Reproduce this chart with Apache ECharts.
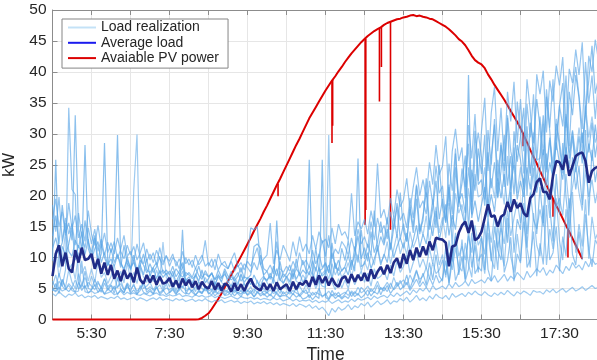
<!DOCTYPE html>
<html>
<head>
<meta charset="utf-8">
<script src="https://cdn.jsdelivr.net/npm/echarts/dist/echarts.min.js"></script>
<style>
  html, body { margin: 0; padding: 0; background: #ffffff; }
  #chart { width: 597px; height: 360px; }
</style>
</head>
<body>
<div id="chart"></div>
<script>
// Sampling grid: one value every 5 minutes starting at 4:30
const startTime = '4:30';
const stepMinutes = 5;
const spanMinutes = 840; // 4:30 .. 18:30

const xTickLabels = ['5:30', '7:30', '9:30', '11:30', '13:30', '15:30', '17:30'];
const yTickLabels = [0, 5, 10, 15, 20, 25, 30, 35, 40, 45, 50];

// Individual load realizations (kW)
const load1 = [
  4.2,3.8,4.5,4.0,3.6,4.1, 3.9,4.3,3.7,4.0,3.5,3.8,
  3.6,3.9,3.4,3.7,3.5,3.3, 3.6,3.4,3.8,3.3,3.5,3.2,
  3.4,3.6,3.1,3.5,3.3,3.0, 3.3,3.5,3.2,3.6,3.1,3.4,
  3.2,3.0,3.4,3.1,3.3,2.9, 3.1,3.3,2.9,3.2,3.0,3.4,
  3.0,2.8,3.1,2.9,3.2,2.7, 2.9,3.1,2.8,3.0,2.6,2.9,
  2.7,3.0,2.5,2.8,2.6,2.9, 2.5,2.8,2.4,2.7,2.3,2.6,
  2.4,2.2,2.6,2.1,2.5,2.3, 2.0,2.4,1.8,2.2,1.6,2.0,
  1.4,0.6,1.8,1.2,2.0,1.5, 1.8,2.4,1.6,2.2,1.9,2.6,
  2.2,2.8,2.0,2.5,3.0,2.4, 2.7,3.2,2.5,3.0,2.8,3.4,
  3.0,3.6,2.8,3.3,3.9,3.1, 3.5,3.0,3.8,3.3,4.1,3.6,
  3.4,3.9,3.2,4.2,3.6,3.9, 4.2,3.7,4.4,4.0,4.6,4.1,
  3.9,4.5,4.0,3.7,4.3,3.9, 4.4,4.0,4.7,4.2,3.8,4.5,
  4.1,4.6,4.3,3.9,4.7,4.4, 4.5,4.1,4.8,4.4,4.9,4.3,
  4.7,5.0,4.4,4.8,5.2,4.6, 4.9,5.3,4.7,5.1,5.5,5.0,
  5.2
];
const load2 = [
  6.2,5.0,7.5,5.4,8.0,34.2, 21.0,20.2,6.0,5.2,7.8,5.0,
  4.8,6.5,5.1,4.4,5.9,4.7, 5.5,4.2,6.8,4.9,4.3,5.6,
  4.5,5.8,4.1,4.7,6.2,4.4, 4.9,4.2,5.4,4.0,4.6,5.8,
  4.3,4.8,4.0,5.2,4.5,4.1, 5.0,4.4,3.9,4.7,4.2,5.3,
  4.1,4.6,3.8,4.4,5.1,4.0, 4.5,3.9,4.8,4.2,3.7,4.6,
  4.0,4.7,3.6,4.3,5.0,3.9, 4.4,3.8,4.9,4.1,3.6,4.5,
  3.9,4.6,4.0,5.2,3.7,4.3, 4.8,3.5,4.4,3.9,5.0,3.6,
  4.2,3.3,4.7,3.8,4.4,3.5, 4.1,4.9,3.7,4.5,3.9,5.2,
  4.6,3.8,5.0,4.3,5.6,4.0, 5.2,4.5,5.9,4.8,5.4,6.3,
  5.1,6.0,4.7,5.6,6.5,5.3, 6.1,5.2,6.8,5.6,7.2,5.9,
  6.6,9.5,5.9,11.0,6.3,7.8, 12.9,6.2,8.1,14.0,7.4,8.5,
  7.8,15.4,8.1,6.2,12.8,8.0, 16.8,7.6,9.5,13.3,6.2,10.6,
  9.1,17.6,8.4,9.7,14.2,7.0, 12.3,8.9,18.5,9.6,10.8,15.0,
  7.8,13.4,10.2,19.6,10.5,8.8, 14.2,9.6,17.0,11.3,8.5,12.9,
  11.8
];
const load3 = [
  13.5,16.8,12.2,18.5,14.0,15.6, 12.8,33.0,14.5,11.2,16.0,12.5,
  10.8,13.6,9.5,12.2,10.0,8.6, 11.5,9.2,10.6,8.4,12.0,9.0,
  8.2,10.4,7.8,9.6,8.8,7.5, 9.0,7.6,8.5,10.2,7.4,8.0,
  7.2,8.6,6.9,7.8,9.2,7.0, 7.6,6.8,8.3,7.1,6.5,7.9,
  6.9,7.5,6.4,8.0,6.8,7.3, 6.5,7.8,6.2,7.0,8.4,6.6,
  10.2,14.8,14.5,15.0,9.0,7.2, 7.8,6.5,8.6,7.0,9.4,6.8,
  7.5,8.8,6.9,8.2,7.4,9.6, 8.0,7.2,9.5,7.8,10.6,8.4,
  9.2,7.5,10.8,8.6,7.9,11.5, 9.5,12.8,8.7,10.4,13.5,9.8,
  11.6,9.4,14.2,10.8,12.5,15.8, 12.4,16.5,11.2,14.8,18.2,13.0,
  15.5,12.6,17.8,14.0,19.5,13.8, 16.8,20.5,14.5,18.0,22.4,16.2,
  19.5,15.8,21.8,11.5,24.6,18.8, 22.0,26.5,14.4,24.2,20.8,27.6,
  23.5,29.8,16.6,26.4,31.5,19.8, 28.2,24.0,32.6,18.8,30.4,25.5,
  29.6,34.2,20.0,31.8,28.5,35.6, 31.2,22.8,36.0,30.5,22.8,29.2,
  34.5,38.2,25.6,36.8,33.0,39.5, 35.8,28.5,33.2,38.6,44.2,36.5,
  39.0
];
const load4 = [
  9.5,25.8,8.4,11.8,10.5,12.2, 14.8,9.6,12.0,10.4,28.2,11.5,
  9.8,13.2,8.8,10.6,28.5,9.2, 8.5,11.0,29.8,9.4,7.8,10.2,
  8.0,9.6,7.4,8.8,7.2,9.8, 7.0,8.4,6.6,7.9,6.8,7.5,
  6.4,7.8,6.0,7.2,8.5,6.3, 6.9,5.8,7.4,6.2,8.0,5.9,
  6.6,7.6,5.7,6.9,6.1,7.8, 5.9,7.0,6.3,5.5,7.4,6.0,
  6.8,5.6,7.2,6.0,5.4,6.7, 6.2,7.5,5.8,16.0,6.4,5.9,
  7.0,6.1,8.2,6.5,7.6,6.0, 6.8,25.8,7.5,6.2,8.4,7.0,
  7.6,8.8,6.5,9.2,7.1,8.0, 8.4,7.2,9.6,7.8,26.0,8.5,
  9.0,10.8,8.2,9.8,11.5,8.8, 10.6,9.2,12.4,10.0,11.8,13.2,
  11.5,14.0,10.8,12.8,15.2,11.6, 13.8,12.2,16.0,13.5,17.5,12.8,
  15.4,18.6,13.6,16.9,14.5,19.8, 17.2,15.0,39.5,16.4,19.2,15.8,
  18.5,21.4,16.8,20.2,17.4,22.8, 19.6,23.5,18.2,21.8,25.0,19.4,
  22.4,19.8,24.6,21.0,26.2,20.5, 23.8,27.5,21.6,25.4,22.8,28.6,
  25.2,22.6,27.8,24.5,29.6,23.8, 26.5,30.2,24.8,28.4,25.6,31.5,
  27.0
];
const load5 = [
  5.5,7.2,4.8,6.5,5.2,8.0, 6.0,5.0,7.4,5.6,6.8,5.2,
  7.0,5.4,6.2,4.9,6.6,5.3, 5.8,6.9,5.1,6.4,4.8,5.9,
  5.2,20.9,29.9,6.6,5.0,5.4, 6.0,4.8,5.6,7.2,5.0,6.4,
  5.3,6.0,4.7,5.8,5.1,6.6, 4.9,5.7,4.5,6.1,5.0,4.6,
  5.4,4.6,6.0,4.8,5.5,4.4, 4.8,5.6,4.3,5.2,4.6,5.9,
  4.5,5.3,4.2,6.4,4.7,5.0, 4.3,5.8,4.6,5.1,4.2,5.6,
  5.0,4.4,6.2,4.7,5.4,4.5, 5.6,4.6,6.8,5.0,6.2,5.4,
  5.2,29.8,6.0,4.8,6.6,5.1, 6.4,5.0,7.2,5.6,6.8,7.8,
  6.0,7.5,5.4,8.2,6.6,7.0, 7.8,6.4,8.8,7.0,9.5,7.6,
  8.6,10.4,7.5,9.2,11.0,8.4, 9.8,8.2,11.5,9.0,12.4,8.8,
  10.5,6.8,12.8,9.4,14.0,10.2, 11.8,9.6,13.5,10.8,15.2,12.0,
  13.2,10.5,15.8,12.4,17.0,11.6, 14.8,12.2,17.6,13.5,16.4,19.0,
  15.6,18.8,13.8,20.5,16.2,14.6, 17.8,15.0,21.2,16.4,22.6,18.2,
  19.6,16.8,23.5,18.0,21.4,24.8, 20.5,17.6,24.2,19.8,22.6,18.8,
  21.5
];
const load6 = [
  4.6,5.8,4.2,6.4,5.0,4.5, 5.2,4.4,6.0,4.7,5.5,4.3,
  4.8,5.6,4.4,5.2,4.1,5.0, 4.5,5.4,4.0,4.9,4.3,5.8,
  4.2,4.8,4.0,5.5,4.4,4.1, 4.6,4.1,5.2,4.3,4.8,4.0,
  4.4,5.0,4.2,4.7,14.5,4.3, 4.1,4.8,4.0,4.5,4.2,5.1,
  4.3,4.0,4.7,4.1,4.5,3.9, 4.0,4.6,3.8,4.4,4.1,4.8,
  3.9,4.3,3.7,4.5,3.8,4.2, 3.6,4.1,3.5,4.4,3.7,3.9,
  3.8,3.4,4.2,3.6,4.0,3.3, 3.5,4.0,3.2,3.8,3.4,25.8,
  3.6,3.2,4.1,3.4,3.9,3.3, 3.8,3.4,4.4,3.7,4.2,3.5,
  4.0,4.8,3.8,4.5,4.1,5.2, 4.6,5.5,4.2,5.0,6.0,4.8,
  5.4,7.2,5.0,6.5,8.0,5.8, 7.5,5.6,9.2,6.4,10.5,7.0,
  6.2,11.8,5.8,9.5,13.4,7.2, 10.2,6.5,14.6,8.4,12.0,7.6,
  13.5,8.0,16.8,9.4,15.0,11.2, 9.6,17.8,12.4,20.6,10.8,16.2,
  14.5,22.8,11.6,19.2,24.5,13.8, 21.4,15.6,26.8,18.2,12.6,23.5,
  17.0,28.5,19.8,14.6,26.2,21.0, 24.8,18.5,30.6,16.8,27.4,22.2,
  25.5
];
const load7 = [
  18.5,14.2,19.8,12.6,16.4,13.8, 15.5,12.0,17.2,13.4,11.6,14.8,
  12.2,14.6,11.0,13.0,10.4,12.5, 10.8,12.6,9.8,11.4,13.6,10.2,
  11.0,9.4,12.2,10.0,9.0,11.4, 9.6,10.8,8.8,11.6,9.2,10.4,
  8.6,10.0,9.4,8.2,11.0,9.0, 9.8,8.4,10.4,8.8,9.6,12.8,
  8.6,9.8,8.0,10.6,8.9,9.4, 8.2,9.6,10.8,8.5,9.2,8.0,
  9.4,8.6,10.2,11.6,8.8,9.8, 10.4,15.6,9.0,11.2,9.6,12.0,
  10.8,9.4,12.6,10.2,13.4,11.0, 12.2,10.6,13.6,11.4,14.2,12.4,
  13.0,11.6,14.8,12.2,15.4,13.6, 14.2,12.8,20.4,13.5,15.8,14.6,
  16.2,13.8,17.6,15.0,25.2,16.4, 17.8,15.4,19.6,16.6,21.0,18.2,
  19.4,22.8,17.6,21.4,24.6,20.0, 22.6,19.8,25.4,21.8,28.2,23.4,
  24.8,29.6,18.4,27.2,30.8,25.6, 27.8,19.6,31.4,26.0,33.2,22.4,
  30.5,35.8,24.0,33.4,37.6,27.2, 34.2,25.6,36.8,32.0,38.4,28.5,
  35.6,27.2,38.8,33.8,26.2,39.6, 36.4,40.2,30.2,38.6,35.2,41.0,
  37.8,42.4,31.0,40.5,38.2,43.6, 39.5,44.8,33.2,42.6,40.0,45.2,
  41.8
];
const load8 = [
  7.5,11.2,6.8,9.5,14.2,8.0, 9.0,6.5,10.8,7.4,8.6,6.2,
  8.2,6.0,9.4,6.8,7.6,5.8, 7.0,8.8,6.2,7.8,5.9,9.2,
  6.4,7.6,5.8,8.4,6.9,6.0, 7.4,6.1,8.0,6.5,12.5,6.8,
  6.0,7.2,5.6,6.6,7.8,5.9, 6.5,5.4,7.1,6.0,5.6,6.8,
  5.8,6.6,5.2,7.4,6.0,5.5, 6.2,5.4,6.8,5.8,7.2,5.6,
  5.3,6.6,5.8,5.0,6.4,7.0, 6.0,5.2,6.6,5.5,7.8,5.8,
  6.8,5.6,7.5,6.2,5.8,7.2, 6.4,7.8,6.0,8.5,6.6,7.4,
  8.0,6.5,9.0,7.2,8.4,6.8, 7.6,9.2,7.0,8.8,10.5,7.8,
  9.4,8.0,10.6,8.8,12.0,9.2, 10.2,12.6,9.0,11.4,13.8,10.6,
  12.4,10.5,14.2,11.6,13.0,15.5, 13.6,16.8,12.2,15.4,18.2,14.0,
  16.5,13.2,18.8,15.0,20.4,17.2, 18.6,15.4,21.2,17.0,23.5,19.8,
  20.2,24.6,18.4,22.8,19.6,25.8, 22.0,18.6,26.4,21.2,27.8,20.4,
  24.6,21.0,28.4,23.2,30.2,25.8, 26.0,31.6,23.8,29.0,25.2,32.4,
  28.8,24.6,33.2,27.0,30.6,26.4, 31.0,27.2,34.6,29.4,32.8,28.6,
  30.2
];
const load9 = [
  4.8,4.5,5.2,4.6,4.9,5.5, 4.7,4.4,4.6,9.5,4.5,4.3,
  4.6,4.2,4.4,4.8,4.1,4.3, 4.5,4.0,4.2,4.6,4.0,4.4,
  4.1,4.3,4.0,3.9,4.2,4.0, 3.8,4.1,4.3,3.9,4.0,3.7,
  4.0,3.8,3.9,4.2,3.7,3.9, 3.8,3.6,4.0,3.7,3.9,3.6,
  3.7,3.9,3.5,3.8,3.6,3.4, 3.6,3.8,3.5,3.3,3.7,3.5,
  3.4,3.6,3.3,3.5,3.2,3.4, 3.3,3.1,3.5,3.2,3.4,3.0,
  3.2,3.4,3.0,3.3,2.9,3.1, 3.0,3.2,2.8,3.1,2.7,3.0,
  2.8,3.1,2.6,2.9,3.2,2.7, 3.0,2.8,3.3,2.9,3.4,3.1,
  3.3,3.6,3.2,3.8,3.4,3.7, 3.9,3.5,4.1,3.7,4.3,3.8,
  4.2,4.6,4.0,4.8,4.3,5.0, 4.6,5.2,4.4,5.5,4.8,5.1,
  5.4,4.9,5.8,5.1,6.0,5.3, 5.6,6.2,5.4,6.5,5.8,6.1,
  6.4,5.9,6.8,6.2,7.1,6.0, 6.6,7.3,6.2,7.0,6.5,7.6,
  7.0,6.4,7.8,6.8,7.4,8.2, 7.6,8.4,7.1,8.0,7.5,8.8,
  8.1,7.4,8.6,7.9,9.2,8.3, 8.8,8.0,9.4,8.5,9.8,8.9,
  9.2
];
const load10 = [
  11.5,13.2,10.8,12.4,15.6,11.0, 10.2,12.8,11.6,14.2,10.5,13.0,
  9.6,11.4,12.6,9.2,10.8,8.8, 9.8,8.6,10.4,9.0,8.2,9.6,
  8.4,9.2,7.8,8.8,10.6,8.0, 7.6,8.4,9.2,7.4,8.0,7.2,
  7.8,7.0,8.2,7.4,6.8,7.6, 7.2,6.6,7.0,8.6,6.8,7.4,
  6.9,7.4,6.5,7.1,6.6,8.2, 7.0,6.4,6.8,7.6,6.2,6.9,
  6.6,7.2,11.8,12.2,11.5,6.8, 6.4,7.0,6.6,8.2,6.3,7.4,
  6.8,7.6,6.5,9.8,7.0,8.0, 7.4,8.6,7.0,11.6,7.8,8.2,
  9.0,7.6,12.4,8.2,9.6,7.8, 8.6,10.4,8.0,11.8,9.2,14.5,
  9.8,12.2,10.4,17.6,11.0,13.4, 12.0,14.6,11.4,16.8,13.2,20.5,
  14.4,12.6,18.2,15.0,21.6,14.2, 16.0,22.8,15.2,19.4,14.8,25.0,
  18.2,15.6,21.4,17.0,26.8,19.0, 20.4,17.2,24.6,19.0,30.5,21.8,
  22.6,18.4,27.0,21.2,25.4,19.6, 24.0,29.8,21.6,26.4,20.2,28.2,
  25.8,21.4,31.2,23.6,27.8,22.4, 26.6,33.0,24.2,29.4,22.8,31.6,
  28.0,23.6,32.8,26.0,30.4,24.8, 29.6,25.2,34.4,27.0,31.8,26.2,
  30.0
];
const load11 = [
  5.0,4.6,6.2,5.4,4.8,5.8, 5.2,6.4,4.9,5.6,5.1,6.0,
  5.4,4.8,5.9,5.2,6.6,5.0, 5.6,4.9,5.3,5.8,4.7,5.2,
  4.9,5.5,4.6,5.1,5.7,4.8, 5.3,4.7,5.0,5.6,4.6,5.1,
  4.8,5.2,4.5,4.9,5.4,4.6, 5.0,4.6,5.3,4.7,4.4,5.1,
  4.6,4.9,4.3,5.2,4.5,4.8, 4.4,4.7,5.1,4.3,4.6,4.2,
  4.7,4.3,4.9,4.4,4.1,4.6, 4.3,4.8,4.2,4.5,4.9,4.1,
  4.5,4.1,4.7,4.3,4.0,4.6, 4.2,4.5,3.9,4.4,4.1,3.8,
  4.0,4.6,3.8,4.3,3.7,4.1, 4.4,3.9,4.6,4.1,5.2,4.3,
  4.7,5.4,4.5,5.0,6.2,4.8, 5.2,6.0,5.0,6.8,5.4,5.9,
  6.4,5.6,7.2,6.0,7.8,6.5, 7.0,8.4,6.6,9.2,7.4,8.0,
  9.6,7.2,10.8,8.0,11.6,8.6, 7.8,12.4,9.0,6.8,13.2,9.4,
  10.6,7.4,14.0,9.8,8.2,15.2, 11.0,8.6,16.4,10.2,7.6,13.8,
  9.4,15.8,11.6,8.4,17.2,12.0, 10.2,18.4,8.8,14.6,11.4,19.6,
  12.8,9.6,17.8,13.2,20.6,10.8, 15.4,11.8,19.4,9.8,16.6,13.0,
  14.2
];
const load12 = [
  16.2,19.5,15.0,17.4,13.6,18.8, 14.6,16.8,13.2,15.4,12.6,17.6,
  13.8,12.0,15.2,11.6,14.0,10.8, 12.4,10.6,13.2,11.0,9.8,12.0,
  10.4,11.8,9.6,10.8,12.4,9.4, 10.6,9.2,11.2,9.8,8.8,10.2,
  9.4,10.6,8.6,9.8,8.4,10.0, 8.8,9.6,8.2,9.4,10.4,8.6,
  9.2,8.4,9.8,8.0,9.0,8.6, 8.2,9.4,7.8,8.8,7.6,9.0,
  8.4,7.6,9.2,8.0,10.4,8.2, 7.8,8.8,7.4,12.6,8.2,7.6,
  8.6,7.8,9.4,8.2,10.8,8.8, 9.6,8.4,11.2,9.0,10.4,12.8,
  10.2,13.6,9.8,11.4,10.6,12.6, 11.8,10.4,13.2,11.0,14.6,12.2,
  13.4,11.6,15.8,12.8,16.4,14.0, 15.2,13.0,17.4,14.6,18.8,16.0,
  17.2,14.8,19.6,16.4,21.8,18.0, 19.2,17.0,22.4,18.6,24.8,20.4,
  21.6,16.0,25.2,20.8,27.6,18.2, 24.4,21.4,28.4,17.0,26.6,30.2,
  26.2,19.4,30.6,25.0,32.4,22.4, 28.6,21.4,33.0,27.2,24.4,35.2,
  30.4,23.6,34.8,29.4,36.4,25.6, 32.8,26.6,37.2,31.0,38.8,27.4,
  34.6,31.2,39.4,28.0,37.6,40.8, 36.2,30.8,41.6,35.0,39.4,32.4,
  38.6
];
const loadRealizations = [load1, load2, load3, load4, load5, load6, load7, load8, load9, load10, load11, load12];

// Average load (kW)
const averageLoad = [
  7.0,10.6,12.0,8.6,10.8,8.2, 7.6,11.2,9.2,11.6,9.6,9.8,
  10.6,8.2,9.8,7.4,9.2,7.2, 8.8,6.6,7.9,6.2,8.0,6.6,
  7.5,6.0,8.4,6.4,5.8,7.2, 6.0,7.1,5.6,6.9,5.8,6.0,
  6.7,5.3,6.3,5.1,6.6,5.5, 6.4,5.2,6.2,4.9,6.1,5.3,
  5.0,6.2,4.8,5.9,4.7,5.8, 5.5,4.5,5.9,4.7,5.7,4.6,
  5.8,6.6,5.4,5.0,4.7,5.9, 4.8,5.7,4.6,6.0,4.9,5.3,
  5.7,4.6,6.1,4.9,5.9,5.6, 6.3,5.3,6.9,5.6,7.1,5.9,
  6.9,5.5,6.7,5.7,5.3,6.6, 7.0,5.9,7.3,6.1,7.2,6.3,
  7.5,6.2,8.1,6.6,7.7,8.5, 7.3,8.8,7.5,9.2,9.9,8.3,
  10.6,9.0,11.2,9.6,11.6,10.1, 11.8,10.4,12.6,11.2,13.2,13.0,
  12.9,12.4,8.6,11.8,12.0,14.0, 15.2,15.8,14.0,16.0,12.8,13.2,
  14.2,16.4,18.6,16.6,16.8,15.0, 16.6,17.0,19.0,17.4,19.4,18.0,
  18.8,17.2,16.6,19.6,20.2,22.2, 22.8,20.6,20.6,19.4,23.2,25.6,
  25.4,24.2,26.6,23.2,24.8,26.4, 26.8,27.0,25.6,22.1,24.0,24.5,
  24.7
];

// Available PV power (kW), same 5-minute grid, ends at 18:05
const pvPower = [
  0,0,0,0,0,0, 0,0,0,0,0,0, 0,0,0,0,0,0, 0,0,0,0,0,0,
  0,0,0,0,0,0, 0,0,0,0,0,0, 0,0,0,0,0,0,
  0,0,0,0.05,0.25,0.6, 1.0,1.7,2.5,3.3,4.2,5.2,
  6.2,7.2,8.2,9.2,10.2,11.2, 12.2,13.2,14.3,15.3,16.3,17.4,
  18.4,19.5,20.6,21.7,22.7,23.8, 24.9,26.0,27.1,28.2,29.2,30.3,
  31.4,32.5,33.4,34.3,35.2,36.1, 37.0,37.8,38.6,39.3,40.1,40.8,
  41.6,42.3,43.0,43.6,44.2,44.8, 45.3,45.8,46.2,46.6,46.9,47.2,
  47.6,47.9,48.1,48.3,48.5,48.6, 48.8,48.9,49.1,49.2,49.0,49.1,
  48.9,48.8,48.6,48.5,48.2,47.9, 47.6,47.3,46.9,46.4,45.9,45.3,
  44.9,44.3,43.5,42.6,41.9,41.5, 41.2,40.6,39.6,38.8,37.9,37.1,
  36.3,35.5,34.6,33.7,32.8,31.9, 30.9,29.8,28.6,27.4,26.3,25.2,
  24.0,22.9,21.7,20.6,19.5,18.4, 17.4,16.3,15.2,14.2,13.1,12.0,
  10.9,9.8
];

// Short PV drops (cloud passages): time, level before the drop, lowest level
const pvDropTime = ['10:17', '11:40', '11:41', '12:31', '12:32', '12:53', '12:56', '13:10', '16:34', '17:20', '17:43'];
const pvDropFrom = [21.9, 38.6, 38.7, 45.4, 45.4, 47.1, 47.2, 48.1, 30.1, 19.5, 14.5];
const pvDropTo   = [19.9, 28.5, 31.3, 15.3, 17.7, 35.2, 40.8, 14.5, 28.0, 16.6, 10.0];

const loadAlpha = [0.6, 0.65, 0.7, 0.72, 0.6, 0.7, 0.65, 0.55, 0.62, 0.7, 0.6, 0.65];

const startMin = (() => { const [h, m] = startTime.split(':').map(Number); return h * 60 + m; })();
function toAxisMinutes(hhmm) {
  const [h, m] = hhmm.split(':').map(Number);
  return h * 60 + m - startMin;
}
function onGrid(values) {
  return values.map((v, i) => [i * stepMinutes, v]);
}

const textColor = '#262626';
const axisColor = '#8c8c8c';
const gridColor = '#e6e6e6';
const fontFamily = '"Liberation Sans", Arial, Helvetica, sans-serif';
const pvColor = '#dc0000';
const avgColor = '#202c88';

const series = [];

series.push({
  name: 'Avaiable PV power', type: 'line', data: onGrid(pvPower),
  symbol: 'none', clip: false, z: 2,
  lineStyle: { color: pvColor, width: 2 }, itemStyle: { color: pvColor }
});
pvDropTime.forEach((t, k) => {
  const x = toAxisMinutes(t);
  series.push({
    name: 'Avaiable PV power', type: 'line', data: [[x, pvDropFrom[k]], [x, pvDropTo[k]]],
    symbol: 'none', z: 2,
    lineStyle: { color: pvColor, width: 1.6 }, itemStyle: { color: pvColor }
  });
});

loadRealizations.forEach((vals, k) => {
  const c = 'rgba(92,166,230,' + loadAlpha[k] + ')';
  series.push({
    name: 'Load realization', type: 'line', data: onGrid(vals),
    symbol: 'none', z: 3,
    lineStyle: { color: c, width: 1.2 }, itemStyle: { color: c }
  });
});

series.push({
  name: 'Average load', type: 'line', data: onGrid(averageLoad),
  symbol: 'none', z: 4,
  lineStyle: { color: avgColor, width: 2.6 }, itemStyle: { color: avgColor }
});

const chart = echarts.init(document.getElementById('chart'), null, { renderer: 'canvas' });
chart.setOption({
  animation: false,
  backgroundColor: '#ffffff',
  textStyle: { fontFamily: fontFamily },
  grid: { left: 52.5, top: 10, width: 546, height: 309.5, containLabel: false, outerBoundsMode: 'none' },
  legend: {
    orient: 'vertical',
    left: 62, top: 19,
    padding: [1.5, 9, 3, 6],
    itemGap: 1.3,
    itemWidth: 28, itemHeight: 2,
    icon: 'rect',
    borderColor: '#858585', borderWidth: 1,
    backgroundColor: '#ffffff',
    textStyle: { fontSize: 14, color: textColor, fontFamily: fontFamily },
    data: [
      { name: 'Load realization', icon: 'rect', itemStyle: { color: '#c4e2f7' } },
      { name: 'Average load', icon: 'rect', itemStyle: { color: '#1a1aee' } },
      { name: 'Avaiable PV power', icon: 'rect', itemStyle: { color: pvColor } }
    ]
  },
  xAxis: [
    {
      type: 'value', min: 0, max: spanMinutes, interval: 60,
      position: 'bottom',
      name: 'Time', nameLocation: 'middle', nameGap: 21,
      nameTextStyle: { fontSize: 17.5, color: textColor, fontFamily: fontFamily },
      axisLine: { show: true, onZero: false, lineStyle: { color: axisColor, width: 1 } },
      axisTick: { show: true, inside: true, length: 5, lineStyle: { color: axisColor } },
      splitLine: { show: true, lineStyle: { color: gridColor, width: 1 } },
      axisLabel: {
        fontSize: 15.5, color: textColor, margin: 6, fontFamily: fontFamily,
        formatter: v => (v % 120 === 60 ? xTickLabels[(v - 60) / 120] : '')
      }
    },
    {
      type: 'value', min: 0, max: spanMinutes, interval: 60,
      position: 'top',
      axisLine: { show: true, onZero: false, lineStyle: { color: axisColor, width: 1 } },
      axisTick: { show: true, inside: true, length: 5, lineStyle: { color: axisColor } },
      splitLine: { show: false },
      axisLabel: { show: false }
    }
  ],
  yAxis: {
    type: 'value', min: 0, max: 50, interval: 5,
    name: 'kW', nameLocation: 'middle', nameGap: 29,
    nameTextStyle: { fontSize: 16.5, color: textColor, fontFamily: fontFamily },
    axisLine: { show: true, lineStyle: { color: axisColor, width: 1 } },
    axisTick: { show: true, inside: true, length: 5, lineStyle: { color: axisColor } },
    splitLine: { show: true, lineStyle: { color: gridColor, width: 1 } },
    axisLabel: {
      fontSize: 15.5, color: textColor, margin: 6, fontFamily: fontFamily,
      formatter: v => String(yTickLabels[v / 5])
    }
  },
  series: series
});
</script>
</body>
</html>
